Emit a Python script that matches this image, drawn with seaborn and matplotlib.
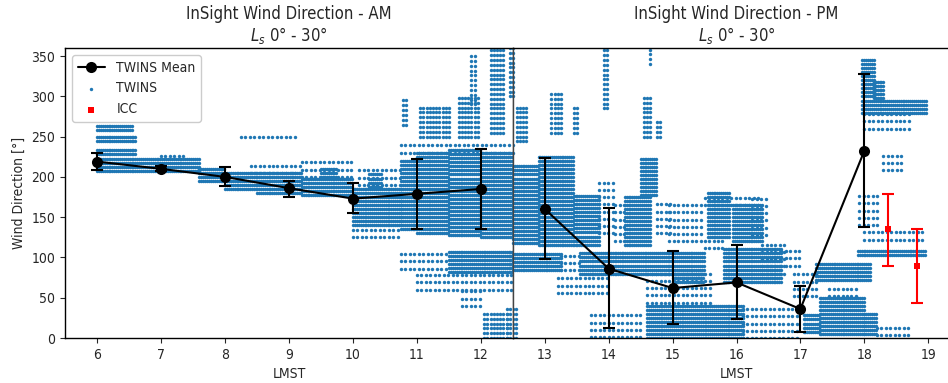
import numpy as np
import pandas as pd
import matplotlib
matplotlib.use("Agg")
import matplotlib.pyplot as plt
import seaborn as sns

# ---- hourly TWINS means with spread (AM / PM) ----
am_hours = [6, 7, 8, 9, 10, 11, 12]
am_mean = [219, 210, 200, 186, 173, 179, 185]
am_low = [208, 207, 189, 175, 155, 135, 135]
am_high = [230, 213, 212, 195, 192, 222, 235]

pm_hours = [13, 14, 15, 16, 17, 18]
pm_mean = [160, 86, 62, 69, 36, 232]
pm_low = [98, 12, 17, 24, 7, 138]
pm_high = [224, 162, 108, 115, 65, 328]

# ---- ICC wind directions ----
icc_hours = [18.37, 18.82]
icc_mean = [135, 89]
icc_low = [89, 44]
icc_high = [179, 135]

# ---- TWINS samples, as (hour from, hour to, dir from, dir to) regions ----
twins_dense = [
    # morning
    (6.00, 7.60, 207, 224), (6.00, 6.62, 228, 236), (6.00, 6.62, 245, 252),
    (6.00, 6.55, 258, 265), (7.60, 8.00, 195, 212), (8.00, 8.50, 185, 208),
    (8.50, 9.20, 180, 205), (9.20, 10.00, 178, 200), (9.50, 9.75, 200, 212),
    (10.00, 10.75, 140, 188), (10.25, 10.45, 188, 205), (10.75, 11.00, 135, 222),
    (11.00, 11.50, 130, 232), (11.50, 12.00, 128, 235), (12.00, 12.50, 125, 230),
    (11.50, 12.50, 82, 108),
    # afternoon
    (12.50, 12.90, 118, 215), (12.90, 13.45, 115, 225), (13.45, 13.85, 116, 178),
    (14.25, 14.65, 115, 177), (14.50, 14.75, 177, 222), (12.50, 13.25, 84, 108),
    (13.55, 14.20, 80, 105), (14.20, 15.50, 80, 108), (15.00, 15.50, 70, 80),
    (15.80, 16.70, 70, 112), (14.60, 16.10, 0, 44), (15.55, 15.90, 125, 180),
    (15.95, 16.40, 120, 165),
    # evening
    (17.25, 18.10, 72, 96), (17.30, 18.00, 5, 52), (17.05, 17.30, 8, 30),
    (18.00, 18.20, 5, 30), (17.90, 18.96, 103, 108), (17.97, 18.15, 300, 345),
    (18.15, 18.30, 298, 320), (17.97, 18.96, 279, 298),
]
twins_sparse = [
    (7.00, 7.40, 226, 230), (8.40, 9.20, 205, 214), (9.20, 10.00, 200, 218),
    (10.10, 10.75, 190, 212), (10.00, 10.75, 125, 140), (10.75, 11.50, 86, 106),
    (11.00, 12.50, 60, 82), (10.75, 12.50, 230, 240), (8.25, 9.10, 250, 258),
    (11.70, 12.00, 40, 60),
    (13.85, 14.10, 130, 200), (14.10, 14.25, 120, 170), (14.75, 15.00, 130, 170),
    (13.25, 13.55, 84, 108), (13.20, 14.00, 56, 80), (14.60, 15.60, 44, 80),
    (13.72, 14.50, 1, 32), (14.95, 15.50, 120, 165), (15.50, 16.40, 165, 182),
    (16.40, 16.80, 80, 120), (16.10, 17.00, 0, 40), (16.25, 16.48, 128, 178),
    (15.50, 15.80, 112, 122), (18.20, 18.70, 4, 20), (18.00, 18.96, 122, 136),
    (17.92, 18.23, 140, 178), (18.00, 18.70, 260, 279), (18.30, 18.60, 208, 226),
    (16.90, 17.30, 52, 80), (16.70, 17.00, 90, 110), (17.45, 17.90, 52, 66),
]
twins_streaks = [
    (10.78, 10.84, 265, 300), (11.05, 11.50, 250, 290), (11.65, 11.95, 250, 300),
    (11.85, 11.92, 290, 355), (12.15, 12.35, 255, 360), (12.40, 12.55, 0, 40),
    (12.05, 12.40, 0, 35), (12.45, 12.50, 300, 360),
    (12.56, 12.72, 244, 289), (13.10, 13.25, 255, 305), (13.45, 13.50, 255, 290),
    (13.92, 13.98, 285, 360), (14.55, 14.65, 250, 300), (14.75, 14.80, 250, 270),
    (14.64, 14.68, 340, 358),
]


def expand(regions, dt, dd):
    rows = []
    for h0, h1, d0, d1 in regions:
        hh, dd_ = np.meshgrid(np.arange(h0, h1 + 1e-9, dt),
                              np.arange(d0, d1 + 1e-9, dd))
        rows.append(pd.DataFrame({"LMST": hh.ravel(), "dir": dd_.ravel()}))
    return rows


twins = pd.concat(expand(twins_dense, 0.03, 5)
                  + expand(twins_sparse, 0.07, 9)
                  + expand(twins_streaks, 0.05, 6), ignore_index=True)

sns.set_style("ticks")
plt.rcParams["font.family"] = ["DejaVu Sans"]
plt.rcParams["font.stretch"] = "condensed"
plt.rcParams["xtick.direction"] = "out"
plt.rcParams["ytick.direction"] = "out"

W, H = 948, 383
fig = plt.figure(figsize=(W / 100, H / 100), dpi=100)
bottom, top = 1 - 338 / H, 1 - 48 / H
ax_am = fig.add_axes([65 / W, bottom, (513 - 65) / W, top - bottom])
ax_pm = fig.add_axes([513 / W, bottom, (960 - 513) / W, top - bottom])

blue = "#1f77b4"
for ax, (lo, hi), hours, mean, low, high, tag in [
    (ax_am, (5.5, 12.5), am_hours, am_mean, am_low, am_high, "AM"),
    (ax_pm, (12.5, 19.5), pm_hours, pm_mean, pm_low, pm_high, "PM"),
]:
    part = twins[(twins["LMST"] >= lo) & (twins["LMST"] <= hi)]
    sns.scatterplot(data=part, x="LMST", y="dir", ax=ax, s=6, color=blue,
                    linewidth=0, label="TWINS", legend=False, zorder=2)
    m = np.array(mean)
    yerr = [m - np.array(low), np.array(high) - m]
    ax.errorbar(hours, mean, yerr=yerr, fmt="none", ecolor="black",
                elinewidth=1.5, capsize=4, capthick=1.5, zorder=3)
    sns.lineplot(x=hours, y=mean, ax=ax, color="black", marker="o",
                 markersize=8, linewidth=1.5, markeredgewidth=0,
                 label="TWINS Mean", legend=False, zorder=4)
    ax.set_xlim(lo, hi)
    ax.set_ylim(0, 360)
    ax.set_xticks(range(int(np.ceil(lo)), int(hi) + 1))
    ax.set_xlabel("LMST", fontsize=10)
    ax.set_title(f"InSight Wind Direction - {tag}\n$L_s$ 0° - 30°", fontsize=12,
                 linespacing=1.1, pad=5)
    ax.tick_params(labelsize=10)
    for sp in ax.spines.values():
        sp.set_linewidth(1.0)
        sp.set_color("black")

ic = np.array(icc_mean)
ax_pm.errorbar(icc_hours, icc_mean, yerr=[ic - np.array(icc_low), np.array(icc_high) - ic],
               fmt="none", ecolor="red", elinewidth=1.5, capsize=4, capthick=1.5, zorder=3)
sns.scatterplot(x=icc_hours, y=icc_mean, ax=ax_pm, marker="s", s=25, color="red",
                linewidth=0, label="ICC", legend=False, zorder=4)

ax_am.set_yticks(range(0, 351, 50))
ax_am.set_ylabel("Wind Direction [°]", fontsize=10)
ax_pm.set_yticks([])
ax_pm.set_ylabel("")
ax_pm.spines["left"].set_color("#444444")
ax_pm.spines["right"].set_visible(False)
ax_am.spines["right"].set_color("#444444")

h_am, l_am = ax_am.get_legend_handles_labels()
h_pm, l_pm = ax_pm.get_legend_handles_labels()
handles = {l: h for h, l in zip(h_am + h_pm, l_am + l_pm)}
order = ["TWINS Mean", "TWINS", "ICC"]
ax_am.legend([handles[k] for k in order], order, loc="upper left", fontsize=10,
             frameon=True, framealpha=1, edgecolor="#cccccc", markerscale=1.0)

fig.savefig("out.png", dpi=100)
